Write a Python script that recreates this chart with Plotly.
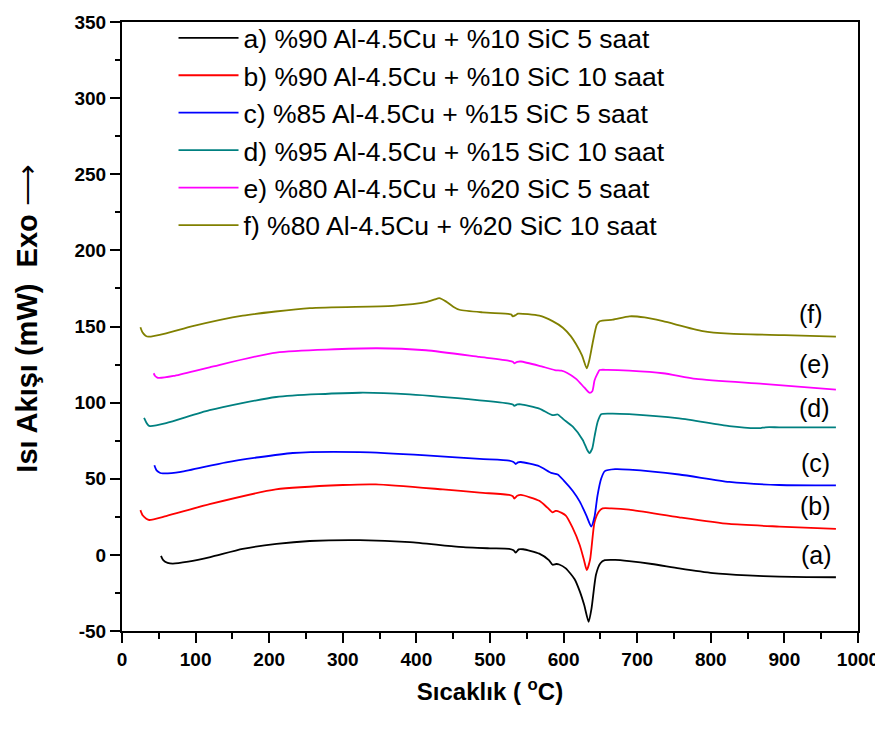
import plotly.graph_objects as go

# ---- data ----
names = [
    "a) %90 Al-4.5Cu + %10 SiC 5 saat",
    "b) %90 Al-4.5Cu + %10 SiC 10 saat",
    "c) %85 Al-4.5Cu + %15 SiC 5 saat",
    "d) %95 Al-4.5Cu + %15 SiC 10 saat",
    "e) %80 Al-4.5Cu + %20 SiC 5 saat",
    "f) %80 Al-4.5Cu + %20 SiC 10 saat",
]
colors = ["#000000", "#ff0000", "#0000ff", "#008080", "#ff00ff", "#808000"]

a_x = [53, 56, 62, 69, 90, 120, 164, 210, 255, 323, 391, 458, 500, 526, 532, 535, 539, 545, 567, 580, 585, 590, 594, 603, 615, 622, 628, 634, 638, 644, 650, 656, 670, 689, 720, 757, 803, 850, 893, 930, 970]
a_y = [-0.6, -3.5, -5.3, -5.8, -4.5, -1.5, 3.9, 7.2, 9.1, 9.7, 8.4, 5.2, 4.3, 3.9, 3.0, 1.5, 3.6, 3.7, 0.8, -3.5, -6.5, -6.0, -6.3, -8.9, -16, -24, -33, -44, -35, -13, -5.5, -3.5, -3.3, -4.1, -6.0, -8.9, -12, -13.5, -14.3, -14.6, -14.7]

b_x = [25, 28, 33, 37, 60, 119, 209, 300, 345, 436, 486, 526, 531, 533, 537, 542, 567, 578, 585, 589, 592, 603, 612, 622, 628, 631.5, 636, 642, 648, 653, 665, 689, 757, 825, 893, 970]
b_y = [29.4, 26, 23.8, 22.9, 25.5, 33.3, 43, 45.9, 46.3, 43, 40.9, 39.4, 38.5, 37, 38.8, 39.4, 35.5, 31, 27.9, 28.9, 28.8, 25.8, 18, 6.3, -4, -10, -3, 21.4, 28.5, 30.5, 30.5, 29.7, 24.7, 20.3, 18.6, 17.1]

c_x = [44, 47, 52, 55.5, 80, 141.6, 232, 323, 413, 486, 526, 532, 535, 538, 542, 567, 583, 592, 600, 612.5, 622, 631, 637.5, 642, 646, 651, 656, 670, 689, 757, 825, 893, 970]
c_y = [58.9, 55.5, 53.8, 53.5, 54.5, 60.8, 66.9, 67.5, 65.4, 63, 61.9, 61, 59.7, 60.8, 61, 58.2, 53.9, 52.8, 49, 42, 35, 25.8, 18.6, 25, 38.8, 50, 55, 56.3, 56, 52.8, 47.9, 45.9, 45.6]

d_x = [30, 33, 36, 38, 60, 119, 209.5, 323, 391, 486, 526, 531, 533, 537, 542, 567, 585, 592, 600, 612.5, 626, 632, 635, 639, 642, 646, 651, 665, 689, 757, 825, 862, 868, 874, 893, 970]
d_y = [90, 87, 85, 84.6, 86.5, 95, 103.7, 106.5, 105.4, 101.5, 99.4, 98.8, 97.9, 98.8, 98.9, 96.1, 91.8, 92.2, 89, 84.2, 75.5, 69, 66.9, 70, 77.7, 87, 92.4, 92.8, 92.4, 89.6, 84.6, 83.2, 83.3, 83.8, 83.8, 83.8]

e_x = [43, 45, 48, 50, 70, 119, 209.5, 345, 413, 486, 526, 531, 533, 537, 542, 567, 588, 597, 605, 617, 628, 635, 639, 642, 646, 649, 660, 689, 735, 780, 871, 970]
e_y = [119.3, 117.5, 116.4, 116.2, 117.5, 123.2, 132.9, 135.7, 134.4, 130, 127.5, 126.8, 125.8, 126.8, 127, 124.2, 121.4, 121, 119.5, 115.6, 110, 106.5, 107.5, 114.5, 119, 121.4, 121.5, 121, 119.3, 115.6, 112.3, 108.6]

f_x = [25, 28, 32, 36, 60, 96, 164, 255, 368, 413, 425, 431, 440, 450, 458.5, 490, 526.5, 529, 531, 535, 538, 567, 585, 599, 610, 617, 625, 631.5, 635, 640, 645, 649, 667, 689.5, 710, 735, 789, 825, 900, 970]
f_y = [149.5, 146, 144, 143.3, 145.5, 150.2, 157.1, 162.1, 163.6, 166, 167.8, 168.6, 166.5, 163, 161, 159.3, 158.2, 157.8, 156.7, 157.5, 158.4, 157.1, 153.5, 149.2, 143.5, 138.3, 131, 122.5, 128, 140.5, 151, 153.5, 154.5, 156.7, 156, 153.5, 147, 145.3, 144.3, 143.3]

curve_labels = ["(a)", "(b)", "(c)", "(d)", "(e)", "(f)"]
label_x = [944, 942, 942, 941, 941, 936]
label_y = [0.2, 32.3, 60.4, 96.8, 125.3, 158]

y_ticks = [-50, 0, 50, 100, 150, 200, 250, 300, 350]
x_ticks = [0, 100, 200, 300, 400, 500, 600, 700, 800, 900, 1000]

xs = [a_x, b_x, c_x, d_x, e_x, f_x]
ys = [a_y, b_y, c_y, d_y, e_y, f_y]

FONT = "Liberation Sans, Arial, Helvetica, sans-serif"

fig = go.Figure()
for i in range(6):
    fig.add_trace(go.Scatter(
        x=xs[i], y=ys[i], mode="lines", name=names[i],
        legendgroup=str(i),
        line=dict(color=colors[i], width=1.8, shape="spline", smoothing=0.6),
    ))

for t, lx, ly in zip(curve_labels, label_x, label_y):
    fig.add_annotation(x=lx, y=ly, text=t, showarrow=False,
                       font=dict(family=FONT, size=25, color="black"))

fig.add_annotation(
    xref="paper", yref="paper", x=-0.129, y=0.513,
    xanchor="center", yanchor="middle",
    text="<b>Isı Akışı (mW)  Exo</b> ⟶", textangle=-90, showarrow=False,
    font=dict(family=FONT, size=29, color="black"),
)

axis_common = dict(
    showline=True, linewidth=2, linecolor="black", mirror=True,
    ticks="outside", tickwidth=2, tickcolor="black", ticklen=10,
    showgrid=False, zeroline=False, automargin=False,
    tickfont=dict(family=FONT, size=19, color="black", weight="bold"),
)

fig.update_xaxes(range=[0, 1000], tickmode="array", tickvals=x_ticks,
                 ticktext=[str(v) for v in x_ticks],
                 minor=dict(dtick=50, tick0=0, ticks="outside", ticklen=6, tickwidth=2, tickcolor="black"),
                 title=dict(text="<b>Sıcaklık ( <sup>o</sup>C)</b>", font=dict(family=FONT, size=24, color="black"), standoff=14),
                 **axis_common)
fig.update_yaxes(range=[-50, 350], tickmode="array", tickvals=y_ticks,
                 ticktext=[str(v) for v in y_ticks],
                 minor=dict(dtick=25, tick0=0, ticks="outside", ticklen=5, tickwidth=2, tickcolor="black"),
                 **axis_common)

fig.update_layout(
    width=875, height=728,
    margin=dict(l=114, r=25, t=6, b=105),
    plot_bgcolor="white", paper_bgcolor="white",
    showlegend=True,
    legend=dict(x=0.07, y=1.013, xanchor="left", yanchor="top",
                font=dict(family=FONT, size=26.5, color="black"),
                bgcolor="rgba(0,0,0,0)", traceorder="grouped",
                tracegroupgap=0, itemwidth=60),
)

fig.write_html("out.html")
